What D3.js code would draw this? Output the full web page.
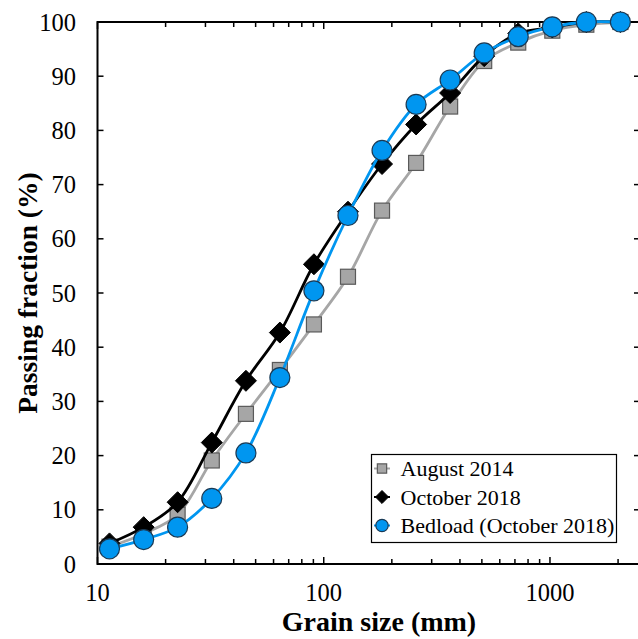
<!DOCTYPE html>
<html><head><meta charset="utf-8">
<script src="https://cdn.jsdelivr.net/npm/d3@7"></script>
<style>body{margin:0;background:#fff}svg{display:block}</style>
</head><body>
<svg id="c" width="638" height="639"></svg>
<script>
const grainSizes = [11.3, 16, 22.6, 32, 45.3, 64, 90.5, 128, 181, 256, 362, 512, 724, 1024, 1448, 2048];
const august2014 = [3.2, 5.6, 9.1, 19.1, 27.7, 35.8, 44.2, 53.0, 65.2, 74.0, 84.4, 92.8, 96.2, 98.4, 99.5, 100];
const october2018 = [3.8, 6.8, 11.4, 22.4, 33.8, 42.7, 55.3, 65.0, 73.8, 81.1, 86.9, 93.7, 97.9, 99.0, 100, 100];
const bedload2018 = [2.8, 4.5, 6.8, 12.1, 20.5, 34.4, 50.4, 64.3, 76.3, 84.8, 89.3, 94.3, 97.3, 99.1, 100, 100];
const xTickLabels = [10, 100, 1000];
const yTickValues = [0, 10, 20, 30, 40, 50, 60, 70, 80, 90, 100];
const seriesNames = ["August 2014", "October 2018", "Bedload (October 2018)"];

const svg = d3.select("#c");
const pL = 97.5, pR = 640, pT = 22, pB = 564;
const x = d3.scaleLog().domain([10, 2500]).range([pL, pR]);
const y = d3.scaleLinear().domain([0, 100]).range([pB, pT]);
const font = "'Liberation Serif','Times New Roman',serif";

const minorTicks = [];
for (let d = 10; d <= 1000; d *= 10) for (let k = 1; k <= 9; k++) { const v = d * k; if (v >= 10 && v <= 2500) minorTicks.push(v); }
const majors = [10, 100, 1000];

const g = svg.append("g");
minorTicks.forEach(v => {
  const isMajor = majors.includes(v);
  const len = isMajor ? 7 : 5;
  g.append("line").attr("x1", x(v)).attr("x2", x(v)).attr("y1", pB).attr("y2", pB - len).attr("stroke", "#000").attr("stroke-width", 1.5);
  g.append("line").attr("x1", x(v)).attr("x2", x(v)).attr("y1", pT).attr("y2", pT + len).attr("stroke", "#000").attr("stroke-width", 1.5);
});
yTickValues.forEach(v => {
  g.append("line").attr("x1", pL).attr("x2", pL + 6).attr("y1", y(v)).attr("y2", y(v)).attr("stroke", "#000").attr("stroke-width", 1.5);
  g.append("line").attr("x1", pR).attr("x2", pR - 6).attr("y1", y(v)).attr("y2", y(v)).attr("stroke", "#000").attr("stroke-width", 1.5);
  g.append("text").attr("x", 76).attr("y", y(v) + 8.5).attr("text-anchor", "end")
    .attr("font-family", font).attr("font-size", 24.5).attr("fill", "#000").text(v);
});
xTickLabels.forEach(v => {
  g.append("text").attr("x", x(v)).attr("y", 601).attr("text-anchor", "middle")
    .attr("font-family", font).attr("font-size", 24.5).attr("fill", "#000").text(v);
});
g.append("rect").attr("x", pL).attr("y", pT).attr("width", pR - pL).attr("height", pB - pT)
  .attr("fill", "none").attr("stroke", "#000").attr("stroke-width", 2);

svg.append("text").attr("x", 379).attr("y", 631).attr("text-anchor", "middle")
  .attr("font-family", font).attr("font-weight", "bold").attr("font-size", 28).text("Grain size (mm)");
svg.append("text").attr("transform", "translate(36.5," + ((pT + pB) / 2) + ") rotate(-90)")
  .attr("text-anchor", "middle").attr("font-family", font).attr("font-weight", "bold").attr("font-size", 27.5)
  .text("Passing fraction (%)");

const curve = d3.curveCatmullRom.alpha(0.5);
const line = d3.line().x(d => x(d[0])).y(d => y(d[1])).curve(curve);

const styles = [
  { vals: august2014, stroke: "#a6a6a6", fill: "#a6a6a6", mstroke: "#5a5a5a", shape: "square" },
  { vals: october2018, stroke: "#000000", fill: "#000000", mstroke: "#000000", shape: "diamond" },
  { vals: bedload2018, stroke: "#0096f0", fill: "#0096f0", mstroke: "#1a3a55", shape: "circle" }
];

function marker(sel, s, cx, cy, scale) {
  if (s.shape === "square") {
    const a = 15 * scale;
    sel.append("rect").attr("x", cx - a / 2).attr("y", cy - a / 2).attr("width", a).attr("height", a)
      .attr("fill", s.fill).attr("stroke", s.mstroke).attr("stroke-width", 1.2);
  } else if (s.shape === "diamond") {
    const r = 10.5 * scale;
    sel.append("path").attr("d", `M${cx},${cy - r}L${cx + r},${cy}L${cx},${cy + r}L${cx - r},${cy}Z`)
      .attr("fill", s.fill).attr("stroke", s.mstroke).attr("stroke-width", 1);
  } else {
    sel.append("circle").attr("cx", cx).attr("cy", cy).attr("r", 10 * scale)
      .attr("fill", s.fill).attr("stroke", s.mstroke).attr("stroke-width", 1.2);
  }
}

const plot = svg.append("g");
styles.forEach(s => {
  const data = grainSizes.map((gs, i) => [gs, s.vals[i]]);
  plot.append("path").attr("d", line(data)).attr("fill", "none").attr("stroke", s.stroke).attr("stroke-width", 2.8);
  data.forEach(d => marker(plot, s, x(d[0]), y(d[1]), 1));
});

const lg = svg.append("g");
lg.append("rect").attr("x", 371.5).attr("y", 454.5).attr("width", 245).attr("height", 88)
  .attr("fill", "#fff").attr("stroke", "#000").attr("stroke-width", 1.2);
const ly = [468.5, 497, 525.5];
styles.forEach((s, i) => {
  lg.append("line").attr("x1", 374).attr("x2", 390).attr("y1", ly[i]).attr("y2", ly[i]).attr("stroke", s.stroke).attr("stroke-width", 2);
  marker(lg, s, 382, ly[i], 0.62);
  lg.append("text").attr("x", 400.5).attr("y", ly[i] + 7.5).attr("font-family", font).attr("font-size", 22)
    .attr("fill", "#000").text(seriesNames[i]);
});
</script>
</body></html>
